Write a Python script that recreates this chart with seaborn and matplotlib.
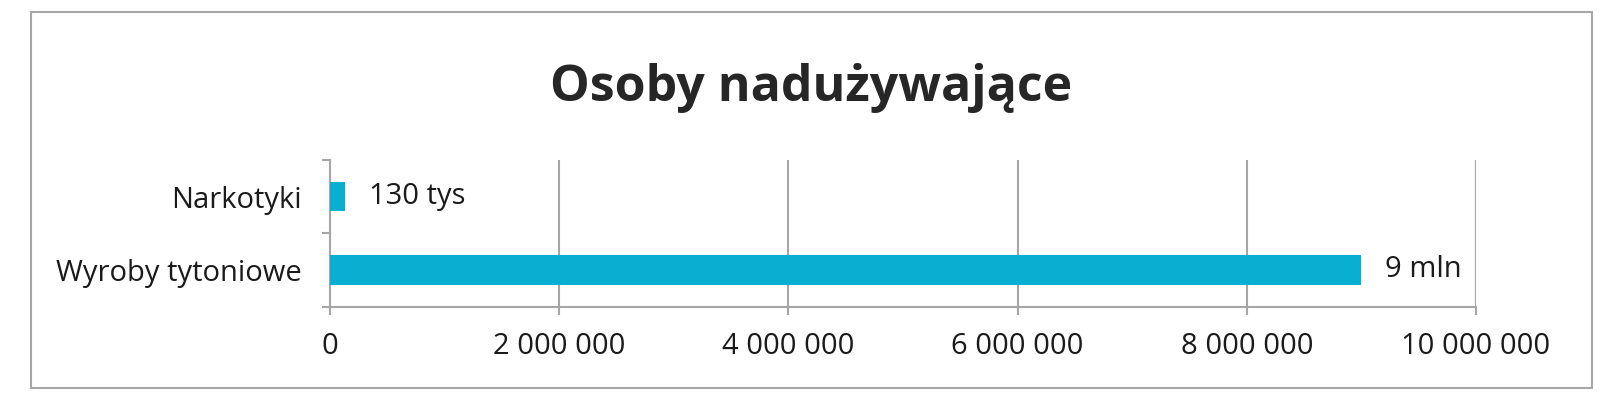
import matplotlib
matplotlib.use("Agg")
import matplotlib.pyplot as plt
import seaborn as sns
import pandas as pd
from matplotlib.patches import Rectangle
from matplotlib.ticker import FuncFormatter, FixedLocator

categories = ["Narkotyki", "Wyroby tytoniowe"]
values = [130000, 9000000]
value_labels = ["130 tys", "9 mln"]
x_ticks = [0, 2000000, 4000000, 6000000, 8000000, 10000000]
title = "Osoby nadużywające"

sns.set_theme(style="white")
plt.rcParams["font.family"] = ["Open Sans", "DejaVu Sans"]

GRAY = "#a6a6a6"
BAR = "#08afd0"
TXT = "#1a1a1a"
FS = 21

fig = plt.figure(figsize=(16, 3.99), dpi=100)
ax = fig.add_axes([330/1600, 92.5/399, (1476-330)/1600, (306.5-160)/399])

df = pd.DataFrame({"cat": categories, "val": values})
sns.barplot(data=df, x="val", y="cat", orient="h", color=BAR, width=0.4,
            saturation=1, ax=ax, order=categories, zorder=3, linewidth=0)

ax.set_xlim(0, 10000000)
ax.set_ylim(1.5, -0.5)
ax.set_xlabel("")
ax.set_ylabel("")

ax.xaxis.set_major_locator(FixedLocator(x_ticks))
ax.xaxis.set_major_formatter(FuncFormatter(lambda v, p: f"{int(v):,}".replace(",", " ")))
ax.grid(axis="x", color=GRAY, linewidth=1.5)
ax.grid(axis="y", visible=False)
ax.set_axisbelow(True)

for s in ["top", "right"]:
    ax.spines[s].set_visible(False)
for s in ["left", "bottom"]:
    ax.spines[s].set_color(GRAY)
    ax.spines[s].set_linewidth(1.5)

ax.tick_params(axis="x", which="major", length=6, width=1.5, color=GRAY,
               labelsize=FS, labelcolor=TXT, pad=12, direction="out", bottom=True)
ax.tick_params(axis="y", which="major", length=0, labelsize=FS, labelcolor=TXT, pad=20)
ax.yaxis.set_minor_locator(FixedLocator([-0.5, 0.5, 1.5]))
ax.tick_params(axis="y", which="minor", length=6, width=1.5, color=GRAY, left=True, direction="out")

for i, (v, lab) in enumerate(zip(values, value_labels)):
    ax.annotate(lab, xy=(v, i), xytext=(24, 0), textcoords="offset pixels",
                ha="left", va="center", fontsize=FS, color=TXT)

fig.text((549+1074)/2/1600, 1 - 88/399, title, ha="center", va="center",
         fontsize=36, fontweight="bold", color="#262626")

fig.patches.append(Rectangle((31/1600, 11/399), (1592-31)/1600, (388-12)/399,
                             transform=fig.transFigure, fill=False,
                             edgecolor=GRAY, linewidth=1.5))

fig.savefig("out.png", dpi=100, facecolor="white")
